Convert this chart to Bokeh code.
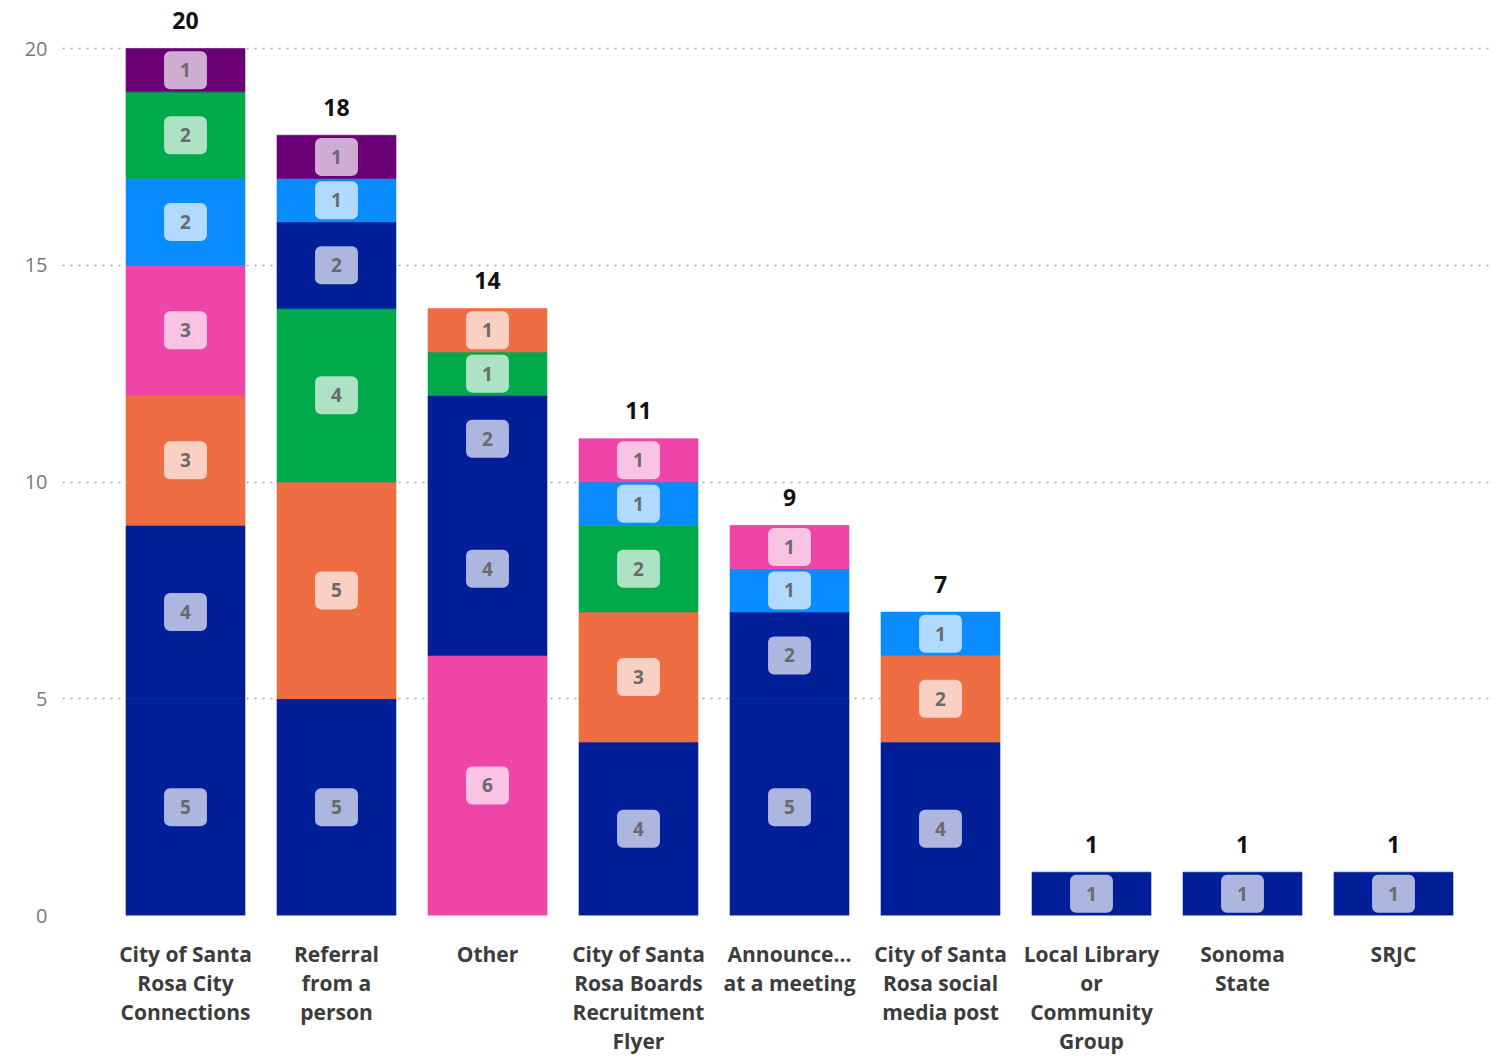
from bokeh.plotting import figure
from bokeh.models import ColumnDataSource, LabelSet, Label, Range1d, FixedTicker
from bokeh.core.properties import value
from bokeh.embed import file_html
from bokeh.resources import INLINE

# ---- data ----
categories = [
    "City of Santa\nRosa City\nConnections",
    "Referral\nfrom a\nperson",
    "Other",
    "City of Santa\nRosa Boards\nRecruitment\nFlyer",
    "Announce...\nat a meeting",
    "City of Santa\nRosa social\nmedia post",
    "Local Library\nor\nCommunity\nGroup",
    "Sonoma\nState",
    "SRJC",
]
# stacked segments per category, bottom to top
segment_values = [
    [5, 4, 3, 3, 2, 2, 1],
    [5, 5, 4, 2, 1, 1],
    [6, 4, 2, 1, 1],
    [4, 3, 2, 1, 1],
    [5, 2, 1, 1],
    [4, 2, 1],
    [1],
    [1],
    [1],
]
segment_groups = [
    ["A", "A", "C", "E", "B", "F", "D"],
    ["A", "C", "F", "A", "B", "D"],
    ["E", "A", "A", "F", "C"],
    ["A", "C", "F", "B", "E"],
    ["A", "A", "B", "E"],
    ["A", "C", "B"],
    ["A"],
    ["A"],
    ["A"],
]
y_ticks = [0, 5, 10, 15, 20]

palette = {
    "A": "#021E98",
    "B": "#0A8CFF",
    "C": "#EE6D42",
    "D": "#6B0076",
    "E": "#EF45A8",
    "F": "#00A94A",
}

# ---- build segment table ----
xs, bottoms, tops, mids, vals, colors = [], [], [], [], [], []
for i, (vs, gs) in enumerate(zip(segment_values, segment_groups)):
    acc = 0
    for v, g in zip(vs, gs):
        xs.append(i)
        bottoms.append(acc)
        tops.append(acc + v)
        mids.append(acc + v / 2)
        vals.append(str(v))
        colors.append(palette[g])
        acc += v
seg_src = ColumnDataSource(dict(x=xs, bottom=bottoms, top=tops, mid=mids, val=vals, color=colors))

totals = [sum(v) for v in segment_values]
tot_src = ColumnDataSource(dict(x=list(range(len(categories))), y=totals, t=[str(t) for t in totals]))

W, H = 1492, 1057
left, bottom_border = 62, 142
px_per_cat = 151.0
x_start = -(185.0 - left) / px_per_cat
x_end = x_start + (W - left) / px_per_cat
px_per_unit = (915 - 48) / 20.0
y_end = 20 + 48 / px_per_unit

p = figure(width=W, height=H, output_backend="svg", toolbar_location=None,
           x_range=Range1d(x_start, x_end), y_range=Range1d(0, y_end),
           min_border_left=left, min_border_right=0, min_border_top=0,
           min_border_bottom=bottom_border)
p.outline_line_color = None
p.background_fill_color = "white"
p.border_fill_color = "white"

p.vbar(x="x", bottom="bottom", top="top", width=119 / 151, fill_color="color",
       line_color="color", line_alpha=0.6, line_width=1, source=seg_src)

# x axis: category labels
p.xaxis.ticker = FixedTicker(ticks=list(range(len(categories))))
p.xaxis.major_label_overrides = {i: c for i, c in enumerate(categories)}
p.xaxis.axis_line_color = None
p.xaxis.major_tick_line_color = None
p.xaxis.minor_tick_line_color = None
p.xaxis.major_label_standoff = 18
p.xaxis.major_label_text_font = "Open Sans"
p.xaxis.major_label_text_font_size = "21px"
p.xaxis.major_label_text_font_style = "bold"
p.xaxis.major_label_text_color = "#3c3c3c"
p.xaxis.major_label_text_line_height = 1.04

p.xgrid.visible = False
p.ygrid.grid_line_color = "#a8a8a8"
p.ygrid.grid_line_dash = "2 6"
p.ygrid.grid_line_width = 1.5
p.yaxis.ticker = FixedTicker(ticks=y_ticks)
p.yaxis.axis_line_color = None
p.yaxis.major_tick_line_color = None
p.yaxis.minor_tick_line_color = None
p.yaxis.major_label_standoff = 9
p.yaxis.major_label_text_font = "Open Sans"
p.yaxis.major_label_text_font_size = "20px"
p.yaxis.major_label_text_color = "#7a7a7a"

for x, m, v in zip(xs, mids, vals):
    p.add_layout(Label(x=x, y=m, text=v,
                       text_align="center", text_baseline="middle",
                       text_font="Open Sans", text_font_size="19px", text_font_style="bold",
                       text_color="#6a6a6a",
                       background_fill_color="white", background_fill_alpha=0.68,
                       border_radius=6, padding=(16, 12)))

tot_labels = LabelSet(x="x", y="y", text="t", source=tot_src,
                      text_align="center", text_baseline="middle", y_offset=28,
                      text_font=value("Open Sans"), text_font_size=value("23px"),
                      text_font_style="bold", text_color="#111111")
p.add_layout(tot_labels)

open("out.html", "w").write(file_html(p, INLINE))
